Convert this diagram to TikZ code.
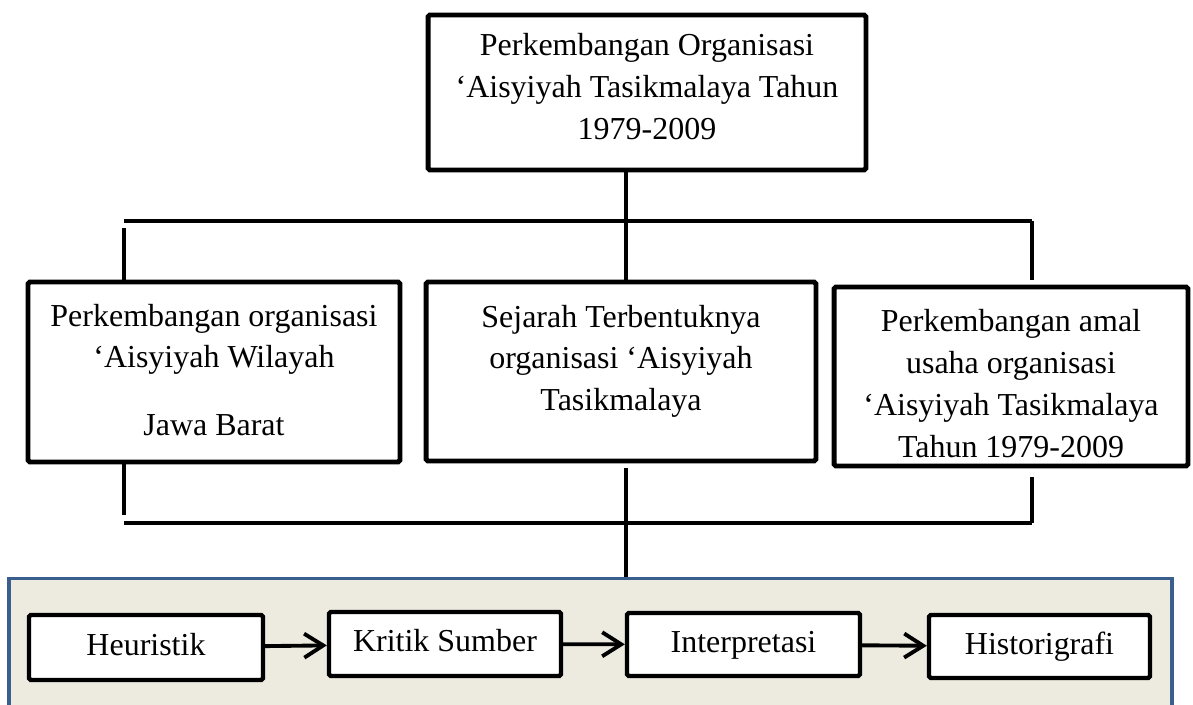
\documentclass[tikz,border=0pt]{standalone}
\usepackage{fontspec}
\setmainfont{Liberation Serif}
\usetikzlibrary{positioning,arrows.meta}
\definecolor{panelfill}{RGB}{237,235,224}
\definecolor{panelline}{RGB}{58,95,142}
\begin{document}
\begin{tikzpicture}[x=0.02cm,y=-0.02cm,
  font=\fontsize{18.2pt}{23.8pt}\selectfont,
  box/.style={draw,line width=2.8pt,rounded corners=1pt,inner sep=0pt},
  txt/.style={inner sep=0pt,align=center},
  stage/.style={draw,line width=2.5pt,fill=white,rounded corners=1pt,inner sep=0pt,text height=13pt,text depth=4pt},
  conn/.style={line width=2pt},
  arr/.style={line width=2.2pt,-{Straight Barb[length=0.38cm,width=0.48cm]}}]
  \useasboundingbox (0,0) rectangle (1193,704);
  % upper part
  \node[box,minimum width=8.76cm,minimum height=3.1cm] (top) at (647,92.5) {};
  \node[txt,below=0.41cm of top.north] (top-t) {Perkembangan Organisasi\\‘Aisyiyah Tasikmalaya Tahun\\1979-2009};
  \node[box,minimum width=7.44cm,minimum height=3.6cm] (wil) at (214,372) {};
  \node[txt,below=0.48cm of wil.north] (wil-t) {Perkembangan organisasi\\‘Aisyiyah Wilayah\\[0.52cm]Jawa Barat};
  \node[box,minimum width=7.8cm,minimum height=3.58cm] (sej) at (621,371.5) {};
  \node[txt,below=0.5cm of sej.north] (sej-t) {Sejarah Terbentuknya\\organisasi ‘Aisyiyah\\Tasikmalaya};
  \node[box,minimum width=7.08cm,minimum height=3.58cm] (amal) at (1011,376.5) {};
  \node[txt,below=0.49cm of amal.north] (amal-t) {Perkembangan amal\\usaha organisasi\\‘Aisyiyah Tasikmalaya\\Tahun 1979-2009};
  \coordinate (bl) at (124,221);
  \coordinate (br) at (1032,221);
  \coordinate (jt) at (626,221);
  \coordinate (cl) at (124,523);
  \coordinate (cr) at (1032,523);
  \coordinate (jb) at (626,523);
  \draw[conn] (bl) -- (br);
  \draw[conn] ([yshift=-0.14cm]bl) -- (bl |- wil.north);
  \draw[conn] (br) -- (br |- sej.north);
  \draw[conn] (top.south -| jt) -- (jt |- sej.north);
  \draw[conn] (cl) -- (cr);
  \draw[conn] (wil.south -| cl) -- ([yshift=0.16cm]cl);
  \draw[conn,shorten <=0.18cm] (amal.south -| cr) -- (cr);
  % lower part
  \node[draw=panelline,fill=panelfill,line width=1.9pt,minimum width=23.26cm,minimum height=3.1cm,inner sep=0pt] (proc) at (590.5,656) {};
  \draw[conn,shorten <=0.1cm] (sej.south -| jb) -- (jb |- proc.north);
  \node[stage,minimum width=4.68cm,minimum height=1.3cm] (heu) at (146,647.5) {Heuristik};
  \node[stage,minimum width=4.64cm,minimum height=1.28cm] (krit) at (445,644) {Kritik Sumber};
  \node[stage,minimum width=4.66cm,minimum height=1.26cm] (intp) at (743.5,644.5) {Interpretasi};
  \node[stage,minimum width=4.42cm,minimum height=1.26cm] (hist) at (1039.5,646.5) {Historigrafi};
  \foreach \a/\b in {heu/krit,krit/intp,intp/hist}
    \draw[arr] (\a) -- (\b);
\end{tikzpicture}
\end{document}
